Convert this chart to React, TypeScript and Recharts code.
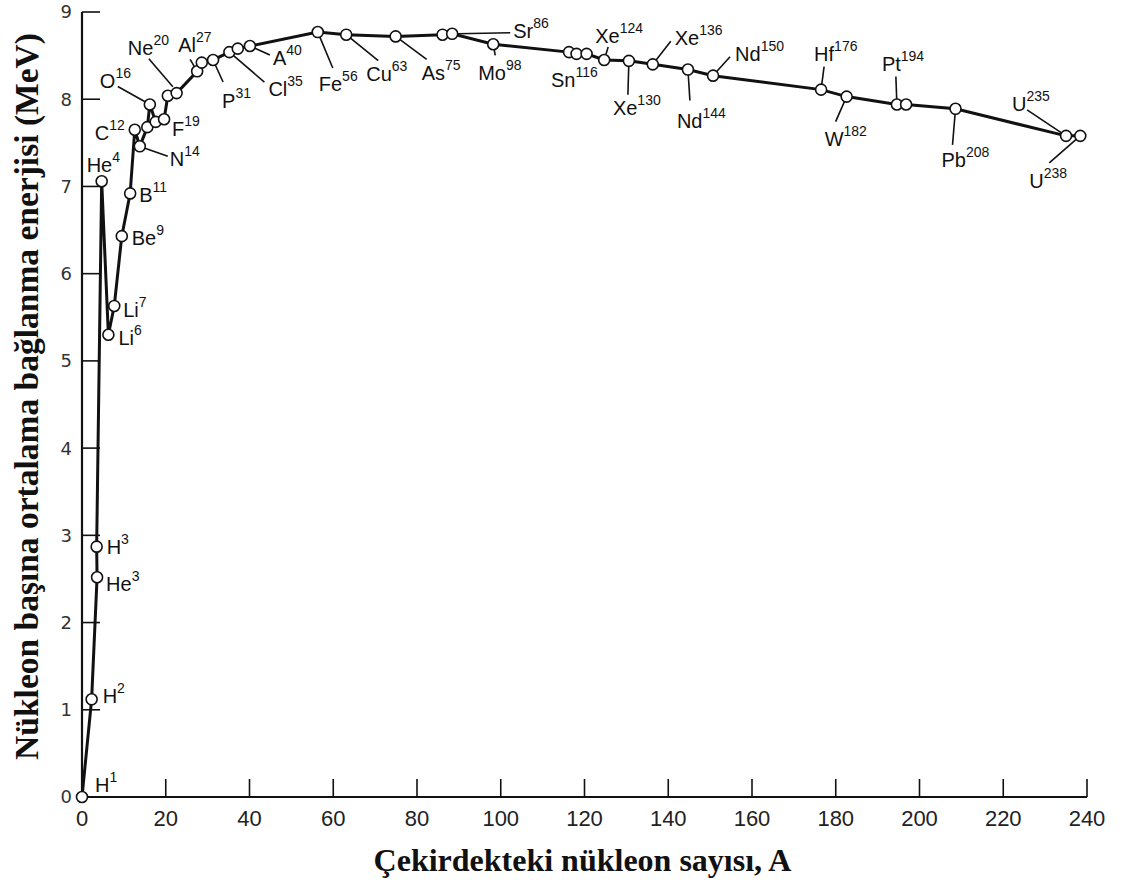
import { LineChart, Line, XAxis, YAxis, LabelList, Label } from "recharts";

// nucleon count A (x) and mean binding energy per nucleon in MeV (y)
const nucleonCount = [
  0, 2.3, 3.6, 3.5, 4.7, 6.3, 7.7, 9.5, 11.5, 12.6, 13.8, 15.6, 16.2, 17.6, 19.6,
  20.5, 22.6, 27.5, 28.6, 31.3, 35.2, 37.2, 40.1, 56.3, 63.1, 74.9, 86.1, 88.4,
  98.2, 116.3, 118.1, 120.5, 124.7, 130.6, 136.3, 144.7, 150.7, 176.5, 182.6,
  194.6, 196.8, 208.6, 235.0, 238.4,
];
const bindingEnergy = [
  0, 1.12, 2.52, 2.87, 7.06, 5.3, 5.63, 6.43, 6.92, 7.65, 7.46, 7.68, 7.94, 7.74,
  7.77, 8.04, 8.07, 8.32, 8.42, 8.45, 8.54, 8.58, 8.61, 8.77, 8.74, 8.72, 8.74,
  8.75, 8.63, 8.54, 8.52, 8.52, 8.45, 8.44, 8.4, 8.34, 8.27, 8.11, 8.03, 7.94,
  7.94, 7.89, 7.58, 7.58,
];
const symbols = [
  "H", "H", "He", "H", "He", "Li", "Li", "Be", "B", "C", "N", "", "O", "", "F",
  "Ne", "", "Al", "", "P", "Cl", "", "A", "Fe", "Cu", "As", "", "Sr", "Mo", "Sn",
  "", "", "Xe", "Xe", "Xe", "Nd", "Nd", "Hf", "W", "Pt", "", "Pb", "U", "U",
];
const massNumbers = [
  1, 2, 3, 3, 4, 6, 7, 9, 11, 12, 14, null, 16, null, 19, 20, null, 27, null, 31,
  35, null, 40, 56, 63, 75, null, 86, 98, 116, null, null, 124, 130, 136, 144,
  150, 176, 182, 194, null, 208, 235, 238,
];
const xTicks = [0, 20, 40, 60, 80, 100, 120, 140, 160, 180, 200, 220, 240];
const yTicks = [0, 1, 2, 3, 4, 5, 6, 7, 8, 9];

const data = nucleonCount.map((a, i) => ({ a, e: bindingEnergy[i] }));

// pixel offsets of each annotation from its point: text start/baseline, leader end
type LabelPlace = { text: [number, number]; leader?: [number, number]; from?: [number, number] };
const LABEL_PLACE: Record<string, LabelPlace> = {
  H1: { text: [13, -5] },
  H2: { text: [11, 4] },
  He3: { text: [9, 14] },
  H3: { text: [10, 7] },
  He4: { text: [-15, -9] },
  Li6: { text: [10, 10] },
  Li7: { text: [9, 11] },
  Be9: { text: [10, 9] },
  B11: { text: [9, 9] },
  C12: { text: [-40, 10] },
  N14: { text: [30, 20], leader: [28, 10] },
  O16: { text: [-50, -16], leader: [-32, -18] },
  F19: { text: [8, 17] },
  Ne20: { text: [-40, -41], leader: [-19, -37], from: [5, -9] },
  Al27: { text: [-19, -19], leader: [-7, -12] },
  P31: { text: [9, 48], leader: [10, 22] },
  Cl35: { text: [39, 44], leader: [35, 30] },
  A40: { text: [23, 19], leader: [20, 9] },
  Fe56: { text: [1, 59], leader: [15, 36] },
  Cu63: { text: [20, 46], leader: [32, 26] },
  As75: { text: [26, 44], leader: [31, 23] },
  Sr86: { text: [61, 4], leader: [58, -1] },
  Mo98: { text: [-15, 36], leader: [2, 11] },
  Sn116: { text: [-18, 35] },
  Xe124: { text: [-9, -17], leader: [4, -13] },
  Xe130: { text: [-16, 54], leader: [-1, 34] },
  Xe136: { text: [22, -19], leader: [18, -23] },
  Nd144: { text: [-11, 58], leader: [2, 31] },
  Nd150: { text: [22, -15], leader: [17, -19] },
  Hf176: { text: [-7, -29], leader: [3, -23] },
  W182: { text: [-22, 49], leader: [-11, 25] },
  Pt194: { text: [-15, -33], leader: [-1, -28] },
  Pb208: { text: [-14, 58], leader: [-3, 36] },
  U235: { text: [-54, -25], leader: [-39, -26] },
  U238: { text: [-51, 52], leader: [-31, 27] },
};

const DOT_R = 5.5;
const labelFont = "'Liberation Sans', Arial, sans-serif";

function NuclideLabel(props: any) {
  const i = props.index;
  const x = props.viewBox?.x ?? props.x;
  const y = props.viewBox?.y ?? props.y;
  const sym = symbols[i];
  if (!sym || x == null || y == null) return null;
  const place = LABEL_PLACE[sym + massNumbers[i]];
  if (!place) return null;

  let leader = null;
  if (place.leader) {
    const [lx, ly] = place.leader;
    let sx: number, sy: number;
    if (place.from) {
      [sx, sy] = place.from;
    } else {
      const len = Math.hypot(lx, ly) || 1;
      sx = (lx / len) * DOT_R;
      sy = (ly / len) * DOT_R;
    }
    leader = (
      <line x1={x + sx} y1={y + sy} x2={x + lx} y2={y + ly} stroke="#111" strokeWidth={1.6} />
    );
  }

  return (
    <g>
      {leader}
      <text x={x + place.text[0]} y={y + place.text[1]} fontFamily={labelFont} fontSize={20} fill="#111">
        <tspan>{sym}</tspan>
        <tspan dy={-10} fontSize={14}>
          {massNumbers[i]}
        </tspan>
      </text>
    </g>
  );
}

const titleFont = "'Liberation Serif', 'Times New Roman', serif";

export default function App() {
  return (
    <div style={{ position: "absolute", left: 0, top: 0, width: 1128, height: 884, background: "#fff" }}>
      <LineChart width={1128} height={884} data={data} margin={{ top: 12, right: 41, bottom: 57, left: 22 }}>
        <XAxis
          xAxisId="bottom"
          dataKey="a"
          type="number"
          domain={[0, 240]}
          ticks={xTicks}
          interval={0}
          height={30}
          tickSize={-18}
          tickMargin={31}
          tickLine={{ stroke: "#111", strokeWidth: 1.6 }}
          axisLine={{ stroke: "#111", strokeWidth: 2.2 }}
          tick={{ fill: "#222", fontSize: 22, fontFamily: labelFont }}
        >
          <Label
            content={({ viewBox }: any) => (
              <text
                x={viewBox.x + viewBox.width / 2 - 2}
                y={871}
                textAnchor="middle"
                fontFamily={titleFont}
                fontWeight="bold"
                fontSize={32}
                fill="#111"
              >
                Çekirdekteki nükleon sayısı, A
              </text>
            )}
          />
        </XAxis>
        <XAxis
          xAxisId="top"
          orientation="top"
          type="number"
          domain={[0, 240]}
          ticks={xTicks}
          interval={0}
          height={0}
          allowDataOverflow
          tick={false}
          tickSize={-15}
          tickLine={{ stroke: "#111", strokeWidth: 1.6 }}
          axisLine={{ stroke: "#111", strokeWidth: 2.2 }}
        />
        <YAxis
          yAxisId="left"
          type="number"
          domain={[0, 9]}
          ticks={yTicks}
          interval={0}
          width={60}
          tickSize={-18}
          tickMargin={28}
          tickLine={{ stroke: "#111", strokeWidth: 1.6 }}
          axisLine={{ stroke: "#111", strokeWidth: 2.2 }}
          tick={{ fill: "#333", fontSize: 18, fontFamily: "'DejaVu Sans', sans-serif" }}
        >
          <Label
            content={({ viewBox }: any) => {
              const cx = 38;
              const cy = viewBox.y + viewBox.height / 2 - 8;
              return (
                <text
                  x={cx}
                  y={cy}
                  transform={`rotate(-90, ${cx}, ${cy})`}
                  textAnchor="middle"
                  fontFamily={titleFont}
                  fontWeight="bold"
                  fontSize={33.5}
                  fill="#111"
                >
                  Nükleon başına ortalama bağlanma enerjisi (MeV)
                </text>
              );
            }}
          />
        </YAxis>
        <YAxis
          yAxisId="right"
          orientation="right"
          type="number"
          domain={[0, 9]}
          ticks={yTicks}
          interval={0}
          width={0}
          allowDataOverflow
          tick={false}
          tickSize={-17}
          tickLine={{ stroke: "#111", strokeWidth: 1.6 }}
          axisLine={{ stroke: "#111", strokeWidth: 2.2 }}
        />
        <Line
          xAxisId="bottom"
          yAxisId="left"
          dataKey="e"
          type="linear"
          stroke="#111"
          strokeWidth={3}
          dot={{ r: DOT_R, fill: "#fff", stroke: "#111", strokeWidth: 1.6 }}
          isAnimationActive={false}
        >
          <LabelList dataKey="e" content={NuclideLabel} />
        </Line>
      </LineChart>
    </div>
  );
}
